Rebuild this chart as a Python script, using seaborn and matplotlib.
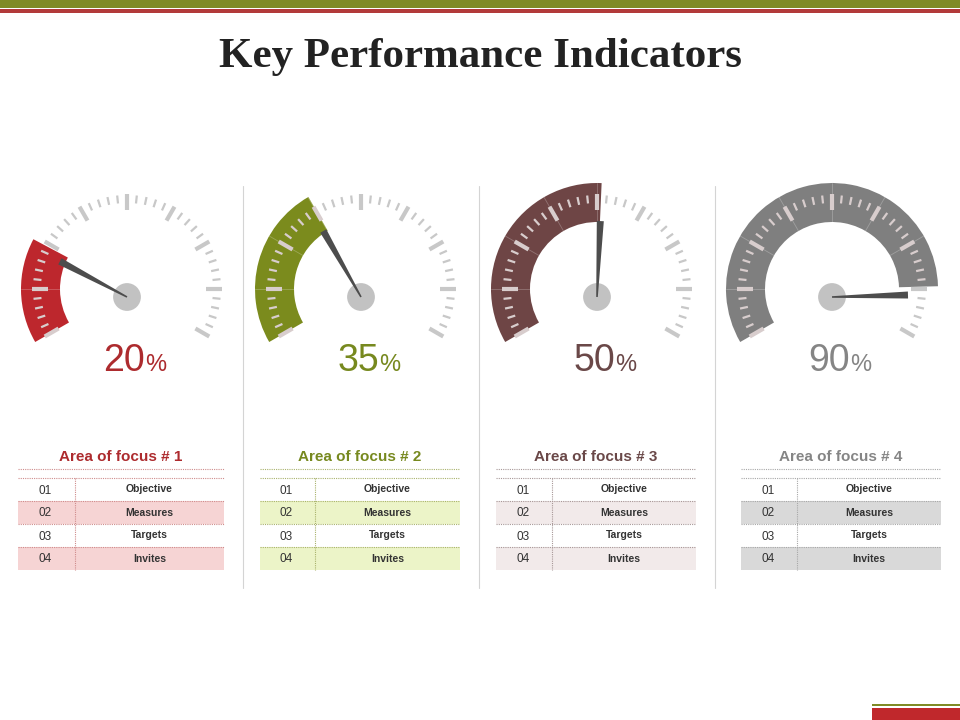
import numpy as np
import pandas as pd
import seaborn as sns
import matplotlib.pyplot as plt
from matplotlib.patches import Wedge, Rectangle, Polygon

# KPI values shown on the four gauges
kpi_values = [20, 35, 50, 90]
gauge_colors = ["#bd272d", "#7b8b1d", "#6e4545", "#7f7f7f"]
text_colors = ["#ad2b2e", "#77891f", "#6a4848", "#858585"]
row_fills = ["#f6d4d4", "#ecf4c8", "#f2eaea", "#d9d9d9"]
dash_colors = ["#cf8c8c", "#a9b26c", "#a89898", "#a8a8a8"]
area_titles = ["Area of focus # 1", "Area of focus # 2", "Area of focus # 3", "Area of focus # 4"]
row_numbers = ["01", "02", "03", "04"]
row_labels = ["Objective", "Measures", "Targets", "Invites"]
title = "Key Performance Indicators"

sns.set_theme(style="white")
plt.rcParams['font.family'] = ['Liberation Sans', 'DejaVu Sans']

fig = plt.figure(figsize=(9.6, 7.2), dpi=100)
ax = fig.add_axes([0, 0, 1, 1])

# header / footer bands
ax.add_patch(Rectangle((0, 0), 960, 7.5, color="#7f8b26", lw=0))
ax.add_patch(Rectangle((0, 9), 960, 3.5, color="#b23a3a", lw=0))
ax.add_patch(Rectangle((872, 704), 88, 2, color="#7f8b26", lw=0))
ax.add_patch(Rectangle((872, 708), 88, 12, color="#c0282c", lw=0))

ax.text(480, 67, title, family=['Liberation Serif', 'DejaVu Serif'], weight='bold',
        fontsize=31, ha='center', va='baseline', color='#222222')

# column separators
for sx in [243, 479, 715]:
    ax.plot([sx, sx], [186, 588], color='#d4d4d4', lw=0.8)

gauge_x = [127, 361, 597, 832]
dial_y, hub_y = 289, 297
r_out, r_in = 106, 67
start_ang = 210


def value_angle(v):
    # angle (degrees, counter-clockwise from east) for a value in percent
    return 195 - 2.15 * v


def pt(cx, cy, r, a):
    t = np.radians(a)
    return cx + r * np.cos(t), cy - r * np.sin(t)


for i, v in enumerate(kpi_values):
    cx = gauge_x[i]
    va = value_angle(v)
    # filled arc from the dial start to the value (y axis is inverted, so angles are negated)
    ax.add_patch(Wedge((cx, dial_y), r_out, -start_ang, -va, width=r_out - r_in,
                       color=gauge_colors[i], lw=0, zorder=2))
    for a in range(180, -31, -30):
        if va < a < start_ang:
            x0, y0 = pt(cx, dial_y, r_in, a)
            x1, y1 = pt(cx, dial_y, r_out, a)
            ax.plot([x0, x1], [y0, y1], color='white', alpha=0.25, lw=0.6, zorder=3)
    # dial ticks
    for a in range(start_ang, -31, -6):
        major = (start_ang - a) % 30 == 0
        ra, rb = (79, 95) if major else (86, 94)
        x0, y0 = pt(cx, dial_y, ra, a)
        x1, y1 = pt(cx, dial_y, rb, a)
        inside = va <= a <= start_ang
        col = '#d8cdcd' if inside else '#c8c8c8'
        ax.plot([x0, x1], [y0, y1], color=col, lw=3.0 if major else 1.6,
                solid_capstyle='butt', zorder=4)
    # needle
    t = np.radians(va)
    d = np.array([np.cos(t), -np.sin(t)])
    p = np.array([-d[1], d[0]])
    hub = np.array([cx, hub_y])
    tip = hub + d * 76
    ax.add_patch(Polygon([hub + p * 0.8, tip + p * 3.5, tip - p * 3.5, hub - p * 0.8],
                         closed=True, color='#4d4d4d', lw=0, zorder=6))
    # percentage label
    ax.text(cx + 18, 371, f"{v}", fontsize=27, color=text_colors[i], ha='right', va='baseline')
    ax.text(cx + 18, 371, "%", fontsize=17, color=text_colors[i], ha='left', va='baseline')

hubs = pd.DataFrame({"x": gauge_x, "y": [hub_y] * 4})
sns.scatterplot(data=hubs, x="x", y="y", s=400, color="#c2c2c2", edgecolor='none',
                ax=ax, zorder=5, legend=False)

# tables under the gauges
table_x = [(18, 224, 75), (260, 460, 315), (496, 696, 552), (741, 941, 797)]
row_top = [478, 501, 524, 547]
row_h = 23
for i, (x0, x1, xd) in enumerate(table_x):
    ax.text((x0 + x1) / 2, 457, area_titles[i], fontsize=11, weight='bold',
            color=text_colors[i], ha='center', va='center')
    for yy in [469, 478, 501, 524, 547]:
        ax.plot([x0, x1], [yy, yy], color=dash_colors[i], lw=0.8, ls=(0, (1, 1)))
    for k, lab in enumerate(row_labels):
        y0 = row_top[k]
        if k % 2 == 1:
            ax.add_patch(Rectangle((x0, y0), x1 - x0, row_h, color=row_fills[i], lw=0, zorder=0))
        ax.text((x0 + xd) / 2 - 1, y0 + 12.5, row_numbers[k], fontsize=8.5, color='#333333',
                ha='center', va='center')
        ax.text((xd + x1) / 2, y0 + 11.5, lab, fontsize=7.5, weight='bold', color='#333333',
                ha='center', va='center')
    ax.plot([xd, xd], [478, 570], color=dash_colors[i], lw=0.8, ls=(0, (1, 1)))

ax.set_xlim(0, 960)
ax.set_ylim(720, 0)  # pixel-like coordinates, y going down
ax.axis('off')

fig.savefig("out.png", dpi=100)
